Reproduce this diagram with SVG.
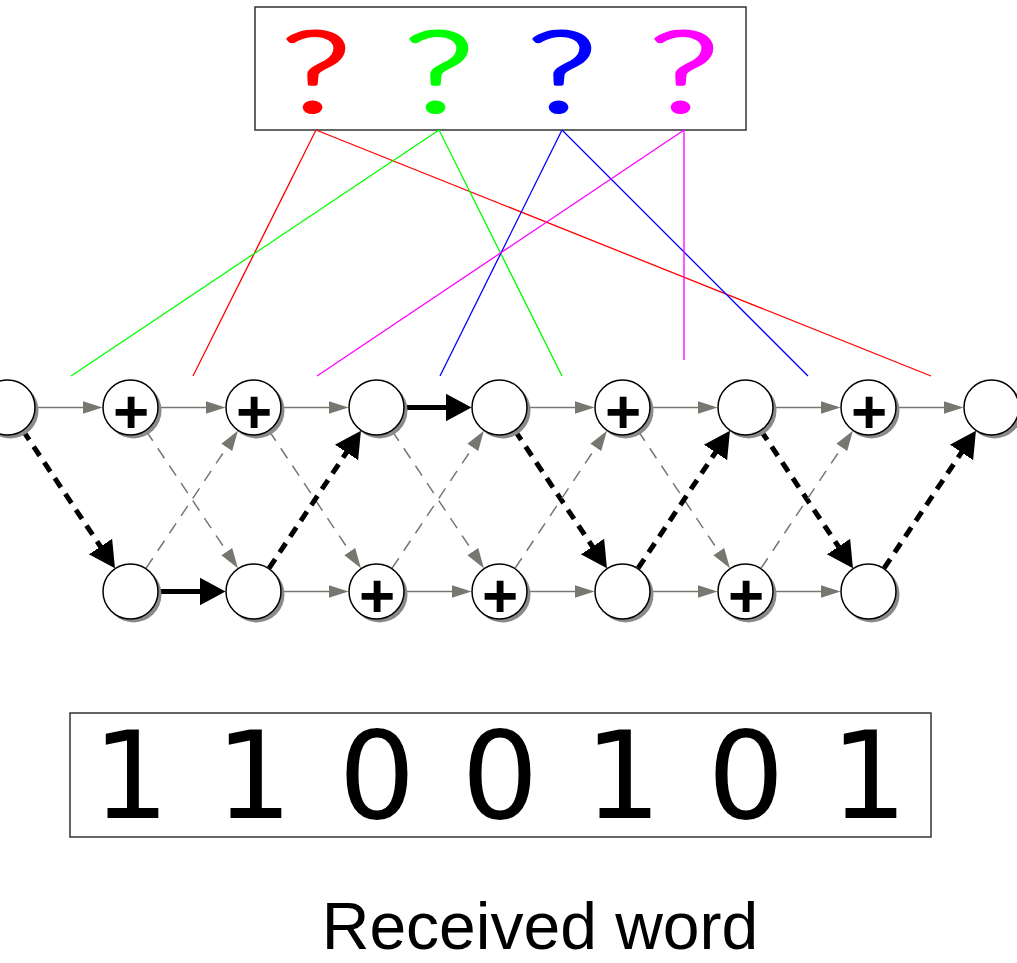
<svg xmlns="http://www.w3.org/2000/svg" width="1017" height="963" viewBox="0 0 1017 963">
<style>
.box{fill:#fff;stroke:#333;stroke-width:1.5}
.nd{fill:#fff;stroke:#000;stroke-width:1.5}
.sh{fill:#8a8a8a}
.pl{font-family:"Liberation Sans",Arial,sans-serif;font-weight:bold;font-size:62px;text-anchor:middle;fill:#000}
.q{font-family:Lato,"DejaVu Sans",sans-serif;font-weight:300;font-size:112px;text-anchor:middle;stroke-width:3.2;stroke-linejoin:round}
.dg{font-family:"DejaVu Sans",sans-serif;font-size:121px;text-anchor:middle;fill:#000}
.g{stroke:#777770;stroke-width:1.5;fill:none;marker-end:url(#ag)}
.gd{stroke:#777770;stroke-width:1.5;fill:none;stroke-dasharray:12 9;marker-end:url(#ag)}
.b{stroke:#000;stroke-width:5;fill:none;marker-end:url(#ab)}
.bd{stroke:#000;stroke-width:5;fill:none;stroke-dasharray:11 8;marker-end:url(#ab)}
.c{stroke-width:1.3;fill:none}
</style>
<defs>
<marker id="ag" markerUnits="userSpaceOnUse" markerWidth="20" markerHeight="14" viewBox="0 -7 20 14" refX="2" refY="0" orient="auto"><path d="M0,-6.5L20,0L0,6.5z" fill="#777770"/></marker>
<marker id="ab" markerUnits="userSpaceOnUse" markerWidth="26" markerHeight="30" viewBox="0 -15 26 30" refX="2" refY="0" orient="auto"><path d="M0,-14L26,0L0,14z" fill="#000"/></marker>
</defs>
<rect width="1017" height="963" fill="#fff"/>

<g id="unknowns">
<rect class="box" x="255" y="7" width="491" height="123"/>
<text class="q" transform="translate(316,112) scale(1.45,1)" fill="#ff0000" stroke="#ff0000">?</text>
<text class="q" transform="translate(439,112) scale(1.45,1)" fill="#00ff00" stroke="#00ff00">?</text>
<text class="q" transform="translate(562,112) scale(1.45,1)" fill="#0000ff" stroke="#0000ff">?</text>
<text class="q" transform="translate(684,112) scale(1.45,1)" fill="#ff00ff" stroke="#ff00ff">?</text>
</g>

<g id="connectors">
<line class="c" stroke="#ff0000" x1="316" y1="130" x2="193" y2="376"/>
<line class="c" stroke="#ff0000" x1="316" y1="130" x2="931" y2="376"/>
<line class="c" stroke="#00ff00" x1="439" y1="130" x2="71" y2="376"/>
<line class="c" stroke="#00ff00" x1="439" y1="130" x2="562" y2="376"/>
<line class="c" stroke="#0000ff" x1="562" y1="130" x2="440" y2="376"/>
<line class="c" stroke="#0000ff" x1="562" y1="130" x2="808" y2="376"/>
<line class="c" stroke="#ff00ff" x1="684" y1="130" x2="317" y2="376"/>
<line class="c" stroke="#ff00ff" x1="684" y1="130" x2="684" y2="360"/>

<line class="g" x1="35.5" y1="407.5" x2="84.5" y2="407.5"/>
<line class="g" x1="158.5" y1="407.5" x2="207.5" y2="407.5"/>
<line class="g" x1="281.5" y1="407.5" x2="330.5" y2="407.5"/>
<line class="b" x1="404.5" y1="407.5" x2="447.5" y2="407.5"/>
<line class="g" x1="527.5" y1="407.5" x2="576.5" y2="407.5"/>
<line class="g" x1="650.5" y1="407.5" x2="699.5" y2="407.5"/>
<line class="g" x1="773.5" y1="407.5" x2="822.5" y2="407.5"/>
<line class="g" x1="896.5" y1="407.5" x2="945.5" y2="407.5"/>

<line class="b" x1="158.5" y1="591.5" x2="201.5" y2="591.5"/>
<line class="g" x1="281.5" y1="591.5" x2="330.5" y2="591.5"/>
<line class="g" x1="404.5" y1="591.5" x2="453.5" y2="591.5"/>
<line class="g" x1="527.5" y1="591.5" x2="576.5" y2="591.5"/>
<line class="g" x1="650.5" y1="591.5" x2="699.5" y2="591.5"/>
<line class="g" x1="773.5" y1="591.5" x2="822.5" y2="591.5"/>

<line class="bd" x1="23.1" y1="430.8" x2="101.6" y2="548.2"/>
<line class="gd" x1="146.1" y1="430.8" x2="227.9" y2="553.2"/>
<line class="gd" x1="269.1" y1="430.8" x2="350.9" y2="553.2"/>
<line class="gd" x1="392.1" y1="430.8" x2="473.9" y2="553.2"/>
<line class="bd" x1="515.1" y1="430.8" x2="593.6" y2="548.2"/>
<line class="gd" x1="638.1" y1="430.8" x2="719.9" y2="553.2"/>
<line class="bd" x1="761.1" y1="430.8" x2="839.6" y2="548.2"/>

<line class="gd" x1="146.1" y1="568.2" x2="227.9" y2="445.8"/>
<line class="bd" x1="269.1" y1="568.2" x2="347.6" y2="450.8"/>
<line class="gd" x1="392.1" y1="568.2" x2="473.9" y2="445.8"/>
<line class="gd" x1="515.1" y1="568.2" x2="596.9" y2="445.8"/>
<line class="bd" x1="638.1" y1="568.2" x2="716.6" y2="450.8"/>
<line class="gd" x1="761.1" y1="568.2" x2="842.9" y2="445.8"/>
<line class="bd" x1="884.1" y1="568.2" x2="962.6" y2="450.8"/>
</g>

<g id="t0"><circle class="sh" cx="10.5" cy="410.5" r="28"/><circle class="nd" cx="7.5" cy="407.5" r="27.5"/></g>
<g id="t1"><circle class="sh" cx="133.5" cy="410.5" r="28"/><circle class="nd" cx="130.5" cy="407.5" r="27.5"/><text class="pl" x="131" y="433">+</text></g>
<g id="t2"><circle class="sh" cx="256.5" cy="410.5" r="28"/><circle class="nd" cx="253.5" cy="407.5" r="27.5"/><text class="pl" x="254" y="433">+</text></g>
<g id="t3"><circle class="sh" cx="379.5" cy="410.5" r="28"/><circle class="nd" cx="376.5" cy="407.5" r="27.5"/></g>
<g id="t4"><circle class="sh" cx="502.5" cy="410.5" r="28"/><circle class="nd" cx="499.5" cy="407.5" r="27.5"/></g>
<g id="t5"><circle class="sh" cx="625.5" cy="410.5" r="28"/><circle class="nd" cx="622.5" cy="407.5" r="27.5"/><text class="pl" x="623" y="433">+</text></g>
<g id="t6"><circle class="sh" cx="748.5" cy="410.5" r="28"/><circle class="nd" cx="745.5" cy="407.5" r="27.5"/></g>
<g id="t7"><circle class="sh" cx="871.5" cy="410.5" r="28"/><circle class="nd" cx="868.5" cy="407.5" r="27.5"/><text class="pl" x="869" y="433">+</text></g>
<g id="t8"><circle class="sh" cx="994.5" cy="410.5" r="28"/><circle class="nd" cx="991.5" cy="407.5" r="27.5"/></g>

<g id="b1"><circle class="sh" cx="133.5" cy="594.5" r="28"/><circle class="nd" cx="130.5" cy="591.5" r="27.5"/></g>
<g id="b2"><circle class="sh" cx="256.5" cy="594.5" r="28"/><circle class="nd" cx="253.5" cy="591.5" r="27.5"/></g>
<g id="b3"><circle class="sh" cx="379.5" cy="594.5" r="28"/><circle class="nd" cx="376.5" cy="591.5" r="27.5"/><text class="pl" x="377" y="617">+</text></g>
<g id="b4"><circle class="sh" cx="502.5" cy="594.5" r="28"/><circle class="nd" cx="499.5" cy="591.5" r="27.5"/><text class="pl" x="500" y="617">+</text></g>
<g id="b5"><circle class="sh" cx="625.5" cy="594.5" r="28"/><circle class="nd" cx="622.5" cy="591.5" r="27.5"/></g>
<g id="b6"><circle class="sh" cx="748.5" cy="594.5" r="28"/><circle class="nd" cx="745.5" cy="591.5" r="27.5"/><text class="pl" x="746" y="617">+</text></g>
<g id="b7"><circle class="sh" cx="871.5" cy="594.5" r="28"/><circle class="nd" cx="868.5" cy="591.5" r="27.5"/></g>

<g id="received">
<rect class="box" x="70" y="713" width="861" height="124"/>
<text class="dg" x="131 192.5 254 315.5 377 438.5 500 561.5 623 684.5 746 807.5 869" y="818">1 1 0 0 1 0 1</text>
</g>

<g id="label">
<text x="540" y="949" font-family="'Liberation Sans',Arial,sans-serif" font-size="66" text-anchor="middle" fill="#000">Received word</text>
</g>
</svg>
